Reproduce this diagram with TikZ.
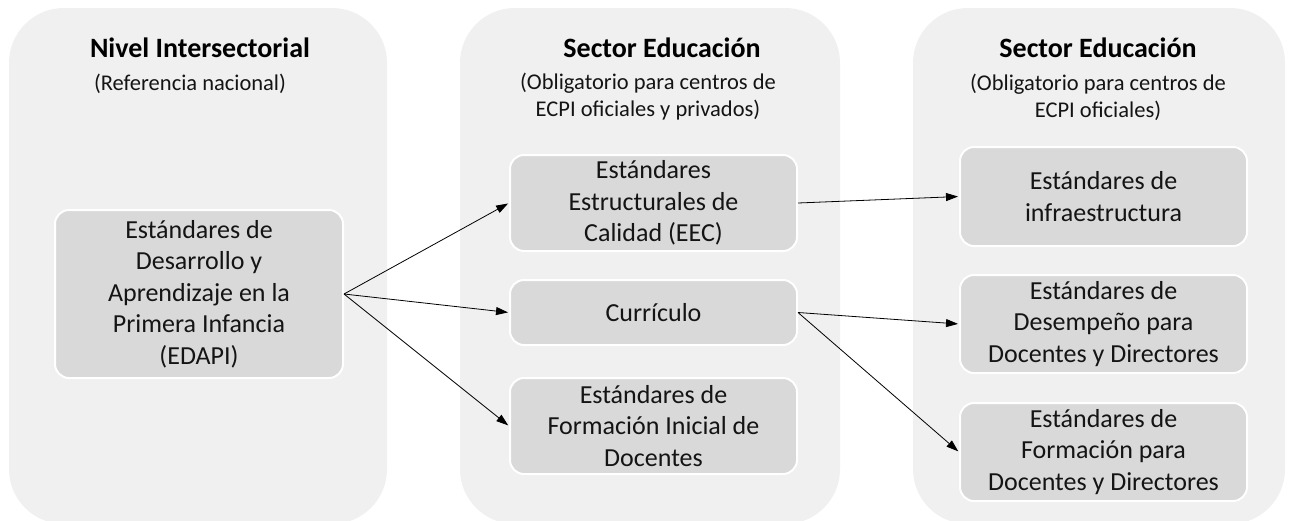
\documentclass[tikz,border=0pt]{standalone}
\usepackage{fontspec}
\setmainfont{Carlito}
\usetikzlibrary{arrows.meta}
\definecolor{panelfill}{HTML}{F0F0F0}
\definecolor{boxfill}{HTML}{D9D9D9}
\definecolor{txt}{HTML}{141414}
\tikzset{
  panel/.style={fill=panelfill, draw=none, rounded corners=55pt, inner sep=0pt, minimum height=516pt},
  stdbox/.style={fill=boxfill, draw=white, line width=2pt, rounded corners=14pt, inner sep=0pt,
    minimum width=287pt, align=center, text=txt, font=\fontsize{26}{31.5}\selectfont},
  ttl/.style={font=\fontsize{28}{32}\selectfont\bfseries, text=black, inner sep=0pt},
  sub/.style={font=\fontsize{22.5}{27}\selectfont, text=txt, align=center, inner sep=0pt},
  conn/.style={draw=black, line width=0.8pt, -{Triangle[length=12pt,width=8pt]}, shorten >=1pt}
}
\begin{document}
\begin{tikzpicture}[x=1pt,y=-1pt]
\useasboundingbox[fill=white] (0,0) rectangle (1289,520);
% panels
\node[panel, minimum width=378pt] (p1) at (198,266) {};
\node[panel, minimum width=380pt] (p2) at (650,266) {};
\node[panel, minimum width=372pt] (p3) at (1099,266) {};
% titles
\node[ttl] (t1) at (200,48) {Nivel Intersectorial};
\node[sub] (s1) at (190,84) {(Referencia nacional)};
\node[ttl] (t2) at (662,48) {Sector Educación};
\node[sub] (s2) at (648,97) {(Obligatorio para centros de\\ECPI oficiales y privados)};
\node[ttl] (t3) at (1098,48) {Sector Educación};
\node[sub] (s3) at (1098,97) {(Obligatorio para centros de\\ECPI oficiales)};
% boxes
\node[stdbox, minimum width=288pt, minimum height=168pt] (edapi) at (199,294)
  {Estándares de\\Desarrollo y\\Aprendizaje en la\\Primera Infancia\\(EDAPI)};
\node[stdbox, minimum height=96pt] (eec) at (653.5,203)
  {Estándares\\Estructurales de\\Calidad (EEC)};
\node[stdbox, minimum height=65pt] (cur) at (653.5,312.5) {Currículo};
\node[stdbox, minimum height=96pt] (fid) at (653.5,426)
  {Estándares de\\Formación Inicial de\\Docentes};
\node[stdbox, minimum height=99pt] (inf) at (1103.5,196.5)
  {Estándares de\\infraestructura};
\node[stdbox, minimum height=98pt] (des) at (1103.5,324)
  {Estándares de\\Desempeño para\\Docentes y Directores};
\node[stdbox, minimum height=98pt] (fpd) at (1103.5,452)
  {Estándares de\\Formación para\\Docentes y Directores};
% connectors
\draw[conn] (edapi.east) -- (eec.west);
\draw[conn] (edapi.east) -- (cur.west);
\draw[conn] (edapi.east) -- (fid.west);
\draw[conn] (eec.east) -- (inf.west);
\draw[conn] (cur.east) -- (des.west);
\draw[conn] (cur.east) -- (fpd.west);
\end{tikzpicture}
\end{document}
